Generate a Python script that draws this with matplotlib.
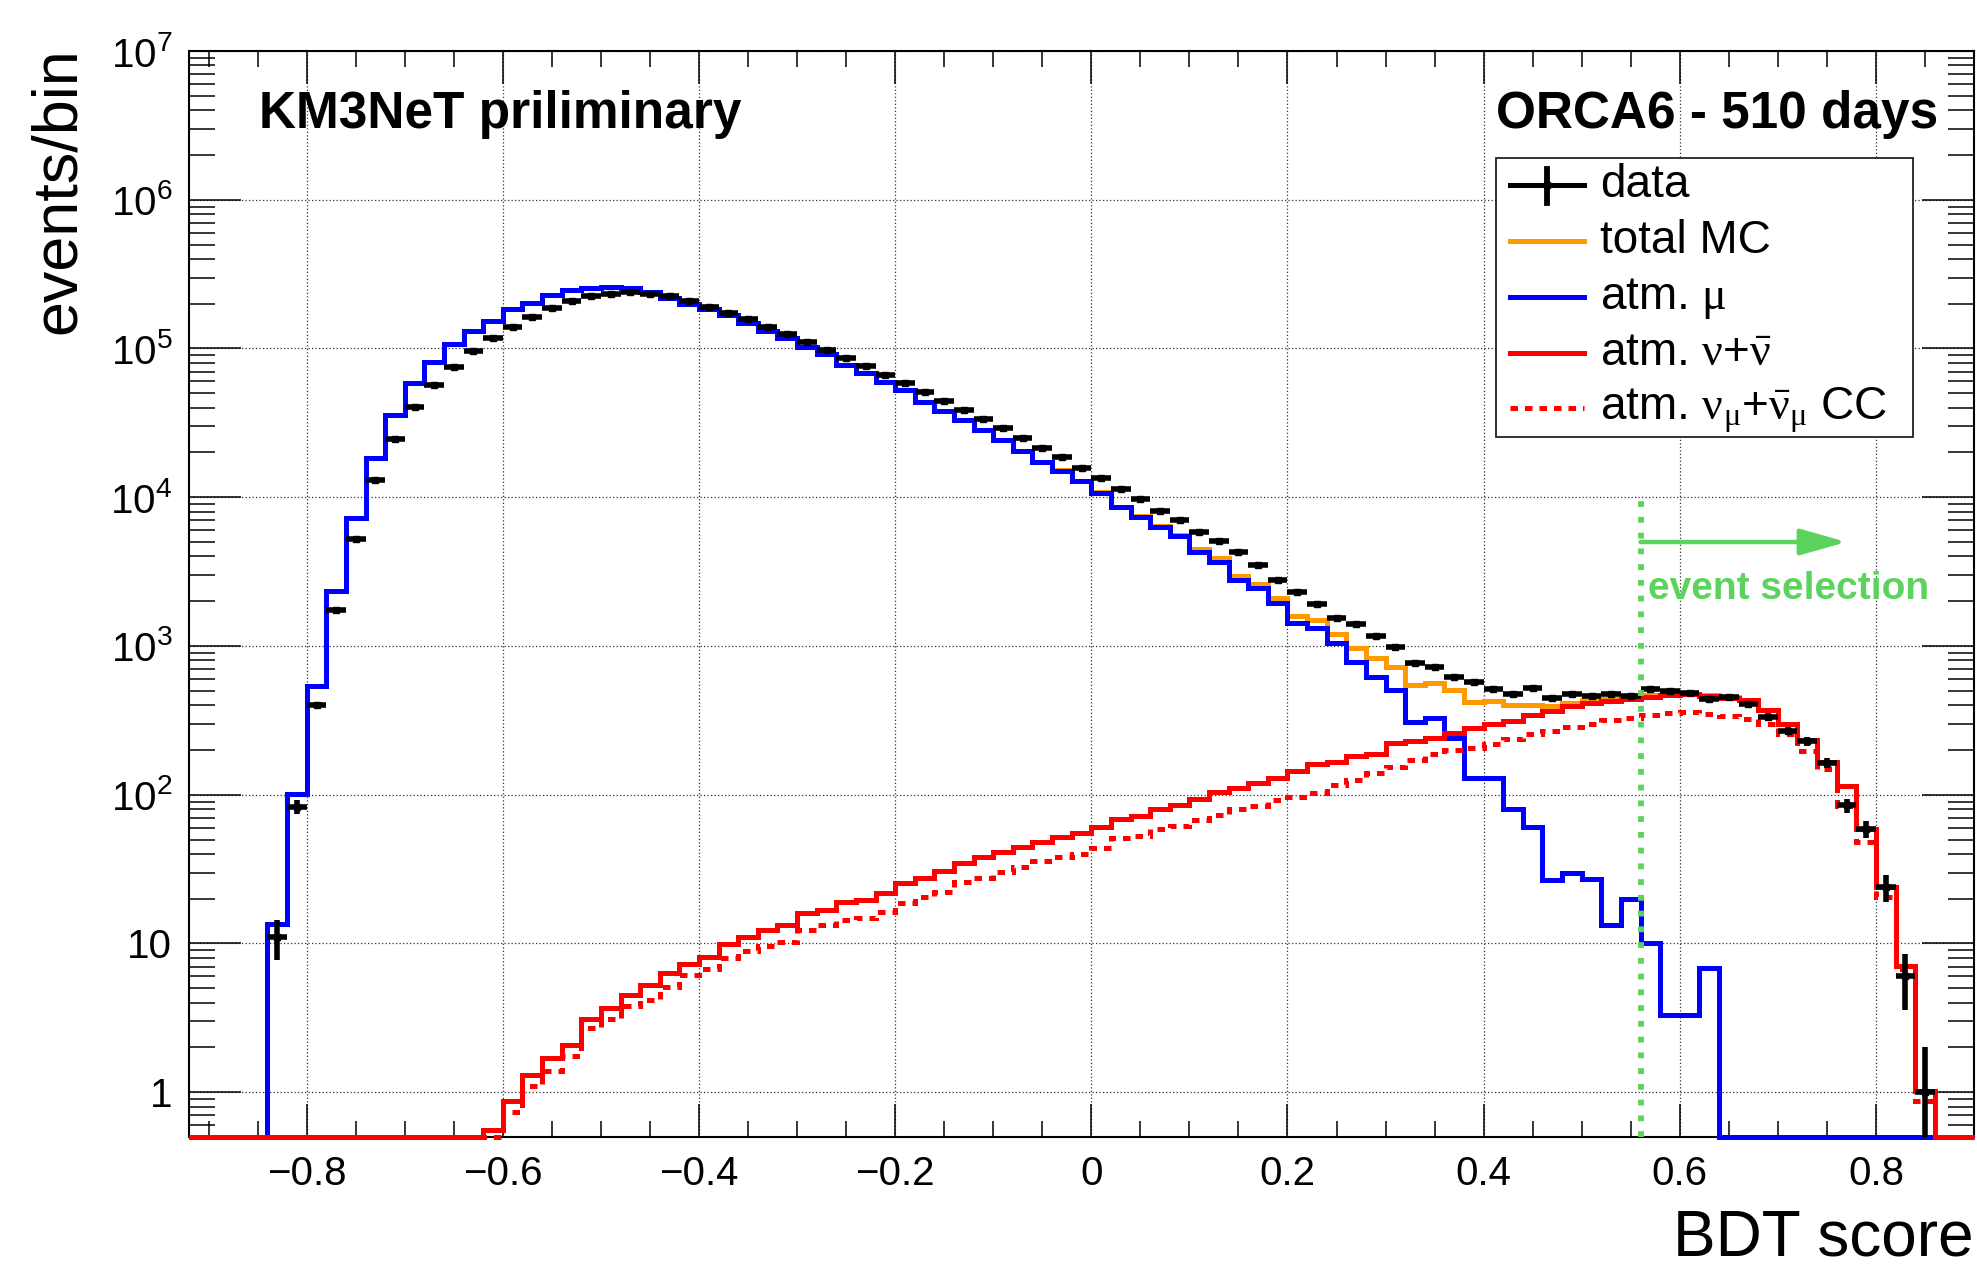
import numpy as np
import matplotlib
matplotlib.use('Agg')
import matplotlib.pyplot as plt
from matplotlib.lines import Line2D
from matplotlib.patches import Rectangle
from matplotlib.ticker import (MultipleLocator, LogLocator, FixedLocator,
                               FixedFormatter, NullFormatter, FuncFormatter)

plt.rcParams['font.family'] = ['Liberation Sans', 'DejaVu Sans']
# greek letters of the legend in an upright serif, like ROOT's symbol font
plt.rcParams['mathtext.rm'] = 'Liberation Serif'
plt.rcParams['mathtext.it'] = 'Liberation Serif:italic'
plt.rcParams['mathtext.bf'] = 'Liberation Serif:bold'

# histogram binning: 0.02 wide bins from -0.92 to 0.90
bin_edges = np.linspace(-0.92, 0.90, 92)

# events per bin, one value per bin, left to right
data_counts = [
    0, 0, 0, 0,
    11, 83, 402, 1738, 5250, 13090, 24800, 40500, 56700, 74900,
    96000, 117000, 139000, 164000, 188000, 209000, 224000, 233000, 238000, 233000,
    224000, 208000, 191000, 173000, 158000, 139000, 125000, 110000, 97000, 86100,
    75700, 66600, 58200, 50600, 44500, 38300, 33500, 29000, 24900, 21500,
    18500, 15800, 13500, 11400, 9770, 8110, 6990, 5860, 5080, 4260,
    3500, 2760, 2290, 1920, 1550, 1400, 1170, 990, 764, 726,
    621, 575, 510, 474, 523, 450, 478, 464, 476, 462,
    512, 498, 481, 442, 455, 405, 334, 268, 228, 163,
    85, 59, 24, 6, 1, 0, 0]

total_mc = [
    0, 0, 0, 0,
    13.5, 101, 541, 2355, 7260, 18400, 35800, 58700, 80900, 107000,
    131000, 154000, 184000, 203000, 228000, 247000, 254000, 260000, 255000, 238000,
    220000, 200000, 185000, 169000, 148000, 132000, 117000, 103000, 91200, 77700,
    68300, 59400, 52200, 43900, 37900, 33100, 28500, 24250, 20350, 17250,
    15150, 12860, 10800, 8650, 7450, 6370, 5540, 4490, 3900, 2960,
    2610, 2100, 1590, 1500, 1200, 975, 826, 718, 546, 566,
    505, 420, 426, 398, 398, 392, 413, 432, 441, 463,
    466, 469, 475, 470, 452, 434, 371, 300, 234, 166,
    115, 58.8, 23.8, 7.06, 1.02, 0, 0]

atm_mu = [
    0, 0, 0, 0,
    13.5, 101, 541, 2355, 7260, 18400, 35800, 58700, 80900, 107000,
    131000, 154000, 184000, 203000, 228000, 247000, 254000, 260000, 255000, 238000,
    220000, 200000, 185000, 169000, 148000, 132000, 117000, 103000, 91200, 77700,
    68300, 59400, 52200, 43800, 37900, 33100, 28500, 24200, 20300, 17200,
    15100, 12800, 10700, 8580, 7350, 6290, 5450, 4300, 3680, 2790,
    2450, 1960, 1420, 1320, 1040, 784, 621, 505, 309, 329,
    239, 130, 130, 80, 61, 26.7, 30, 27, 13.3, 20,
    10.1, 3.3, 3.3, 6.8, 0, 0, 0, 0, 0, 0,
    0, 0, 0, 0, 0, 0, 0]

atm_nu = [
    0, 0, 0, 0, 0, 0, 0, 0, 0, 0,
    0, 0, 0, 0, 0, 0.56, 0.87, 1.30, 1.69, 2.07,
    3.13, 3.70, 4.50, 5.23, 6.33, 7.24, 8.1, 9.9, 11.0, 12.4,
    13.4, 16.1, 16.8, 19.1, 19.6, 21.7, 25.4, 27.5, 30.9, 34.8,
    38.0, 41.0, 44.2, 48.0, 52.1, 55.7, 60.5, 68.5, 71.8, 80.0,
    85.1, 93, 104, 111, 119, 130, 144, 160, 166, 181,
    189, 221, 229, 242, 258, 280, 299, 315, 345, 368,
    394, 415, 428, 443, 456, 466, 472, 463, 449, 431,
    369, 300, 234, 166, 115, 58.8, 23.8, 7.06, 1.02, 0,
    0]

atm_numu_cc = [
    0, 0, 0, 0, 0, 0, 0, 0, 0, 0,
    0, 0, 0, 0, 0, 0, 0.74, 1.10, 1.38, 1.75,
    2.71, 3.13, 3.79, 4.19, 5.10, 6.1, 6.7, 8.0, 8.9, 9.6,
    10.3, 12.4, 13.4, 14.4, 14.8, 16.2, 18.8, 20.4, 22.2, 25.8,
    27.4, 30.1, 32.7, 35.6, 38.0, 40.0, 43.9, 51.1, 52.4, 58.7,
    61.2, 67.8, 73.6, 80.5, 83.4, 91.6, 96.4, 103, 116, 126,
    139, 154, 170, 189, 201, 205, 218, 237, 255, 270,
    284, 297, 316, 327, 342, 352, 358, 350, 336, 324,
    300, 257, 198, 149, 84.6, 47.9, 20.4, 6.7, 0.87, 0,
    0]

cut_value = 0.56

y_ticks = [1, 10, 1e2, 1e3, 1e4, 1e5, 1e6, 1e7]
y_ticklabels = ['1', '10', r'$\mathregular{10^{2}}$', r'$\mathregular{10^{3}}$',
                r'$\mathregular{10^{4}}$', r'$\mathregular{10^{5}}$',
                r'$\mathregular{10^{6}}$', r'$\mathregular{10^{7}}$']

# colours
c_orange = '#ff9900'
c_blue = '#0000ff'
c_red = '#ff0000'
c_green = '#5cd35c'

ymin, ymax = 0.5, 1e7
lw = 3.6
dotted_red = (0, (1.5, 1.4))

W, H = 1977, 1266


def fx(px):
    return px / W


def fy(py):
    return 1 - py / H


def on_floor(v):
    # ROOT draws empty bins along the bottom of the frame
    v = np.asarray(v, float)
    return np.where(v > 0, v, ymin)


def xlabel_fmt(v, pos):
    if abs(v) < 1e-9:
        return '0'
    return ('%g' % round(v, 2)).replace('-', '\u2212')


fig = plt.figure(figsize=(19.7701, 12.6601), dpi=100)
ax = fig.add_axes([fx(189), fy(1137), fx(1974) - fx(189), fy(51) - fy(1137)])
ax.set_yscale('log')

ax.stairs(on_floor(total_mc), bin_edges, baseline=None, color=c_orange, lw=lw,
          clip_on=False, zorder=3)
ax.stairs(on_floor(atm_mu), bin_edges, baseline=None, color=c_blue, lw=lw,
          clip_on=False, zorder=4)
ax.stairs(on_floor(atm_nu), bin_edges, baseline=None, color=c_red, lw=lw,
          clip_on=False, zorder=5)
ax.stairs(on_floor(atm_numu_cc), bin_edges, baseline=None, color=c_red, lw=lw,
          ls=dotted_red, clip_on=False, zorder=5)

# data with poisson errors
centers = 0.5 * (bin_edges[:-1] + bin_edges[1:])
d = np.asarray(data_counts, float)
m = d > 0
err = np.sqrt(d[m])
err_lo = np.minimum(err, d[m] - 1e-3)
ax.errorbar(centers[m], d[m], xerr=0.01, yerr=[err_lo, err], fmt='s', ms=4.5,
            color='k', ecolor='k', elinewidth=4.0, capsize=0, zorder=6)

# event selection cut
ax.plot([cut_value, cut_value], [ymin, 1e4], color=c_green, lw=4.2,
        ls=(0, (1.0, 1.7)), zorder=7)
ax.annotate('', xy=(0.77, 5000), xytext=(cut_value, 5000),
            arrowprops=dict(arrowstyle='-|>,head_length=0.95,head_width=0.27',
                            color=c_green, lw=3.2, mutation_scale=30,
                            shrinkA=0, shrinkB=0), zorder=7)

ax.set_xlim(-0.92, 0.90)
ax.set_ylim(ymin, ymax)

ax.xaxis.set_major_locator(MultipleLocator(0.2))
ax.xaxis.set_minor_locator(MultipleLocator(0.05))
ax.xaxis.set_major_formatter(FuncFormatter(xlabel_fmt))
ax.yaxis.set_major_locator(FixedLocator(y_ticks))
ax.yaxis.set_major_formatter(FixedFormatter(y_ticklabels))
ax.yaxis.set_minor_locator(LogLocator(base=10, subs=np.arange(2, 10), numticks=30))
ax.yaxis.set_minor_formatter(NullFormatter())

ax.tick_params(axis='both', which='both', direction='in', top=True, right=True,
               width=1.1, labelsize=29)
ax.tick_params(axis='x', which='major', length=24, pad=13)
ax.tick_params(axis='x', which='minor', length=11.5)
ax.tick_params(axis='y', which='major', length=37.5, pad=12)
ax.tick_params(axis='y', which='minor', length=18.7)
for s in ax.spines.values():
    s.set_linewidth(1.5)

ax.set_axisbelow(True)
ax.grid(True, which='major', color='#333333', lw=0.9, ls=(0, (1, 1.8)))

# titles and texts
fig.text(fx(75), fy(47), 'events/bin', rotation=90, rotation_mode='anchor',
         ha='right', va='baseline', fontsize=45.3)
fig.text(fx(1974), fy(1255), 'BDT score', ha='right', va='baseline', fontsize=46)
fig.text(fx(259), fy(128), 'KM3NeT priliminary', fontsize=37, fontweight='bold',
         va='baseline')
fig.text(fx(1938), fy(128), 'ORCA6 - 510 days', fontsize=37, fontweight='bold',
         ha='right', va='baseline')
fig.text(fx(1648), fy(599), 'event selection', fontsize=28, fontweight='bold',
         color=c_green, va='baseline')

# legend box, drawn ROOT style
fig.add_artist(Rectangle((fx(1496), fy(437)), fx(1913) - fx(1496), fy(158) - fy(437),
                         transform=fig.transFigure, facecolor='white',
                         edgecolor='#222222', lw=1.3, zorder=10))
legend_rows = [
    ('data', 'k', '-'),
    ('total MC', c_orange, '-'),
    (r'atm. $\mathrm{\mu}$', c_blue, '-'),
    (r'atm. $\mathrm{\nu}$+$\mathrm{\bar{\nu}}$', c_red, '-'),
    (r'atm. $\mathrm{\nu_{\mu}}$+$\mathrm{\bar{\nu}_{\mu}}$ CC', c_red, dotted_red),
]
row_y = [185, 241, 297, 353, 408]
for (label, col, ls), yy in zip(legend_rows, row_y):
    fig.add_artist(Line2D([fx(1510), fx(1584)], [fy(yy), fy(yy)], color=col, lw=lw,
                          ls=ls, transform=fig.transFigure, zorder=11))
    if label == 'data':
        fig.add_artist(Line2D([fx(1547), fx(1547)], [fy(169), fy(203)], color='k',
                              lw=lw + 0.6, transform=fig.transFigure, zorder=11))
        fig.add_artist(Line2D([fx(1547)], [fy(yy)], marker='s', ms=4.5, color='k',
                              transform=fig.transFigure, zorder=11))
    fig.text(fx(1600), fy(yy + 12), label, fontsize=33, va='baseline',
             math_fontfamily='custom', zorder=12)

fig.savefig('out.png', dpi=100)
